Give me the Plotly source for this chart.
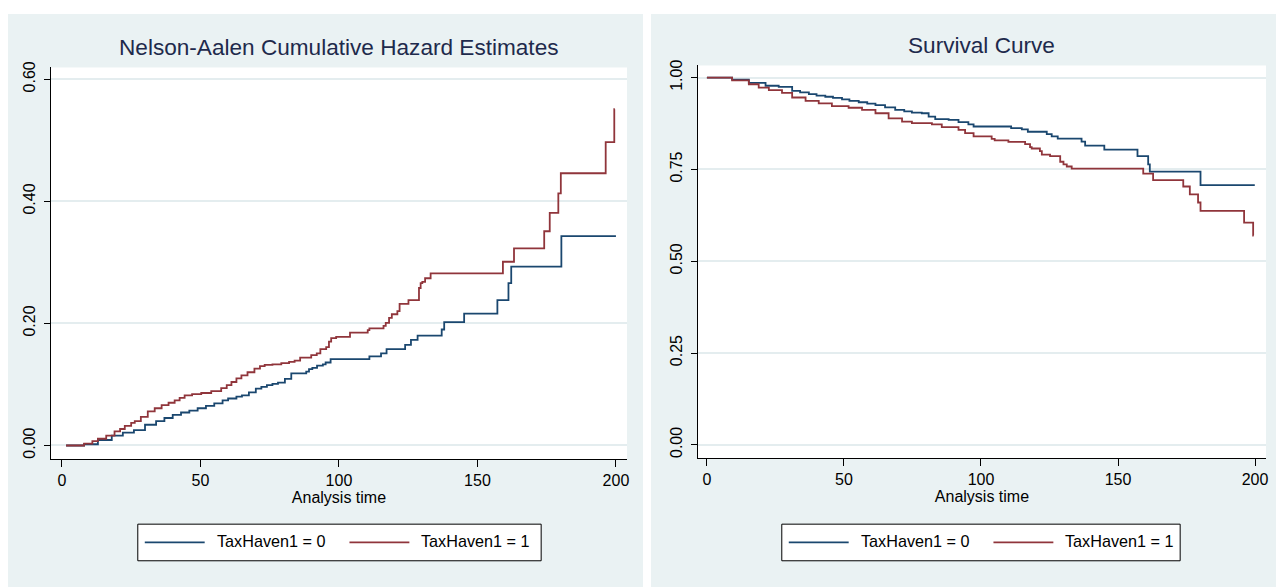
import plotly.graph_objects as go

# ---------------- data ----------------
groups = ["TaxHaven1 = 0", "TaxHaven1 = 1"]

# Nelson-Aalen cumulative hazard, TaxHaven1 = 0
na0_t = [1.5, 8, 13, 18, 22, 26, 30, 34, 37, 40, 43, 46, 49, 52, 55, 58, 60, 63, 65,
         67.5, 70, 72, 74, 76, 78, 80.5, 82.8, 88.2, 89.2, 90.4, 92.1, 94.2, 95.2, 97,
         111, 115.2, 117.2, 123.9, 126, 128.4, 137.1, 138, 145.2, 157.2, 161.2, 162.2,
         180.3, 200]
na0_h = [0, 0.002, 0.009, 0.016, 0.021, 0.025, 0.034, 0.040, 0.045, 0.050, 0.054,
         0.057, 0.061, 0.065, 0.069, 0.074, 0.077, 0.080, 0.082, 0.087, 0.093, 0.096,
         0.099, 0.101, 0.103, 0.109, 0.118, 0.121, 0.125, 0.127, 0.131, 0.133, 0.136,
         0.1416, 0.146, 0.151, 0.158, 0.165, 0.173, 0.180, 0.190, 0.202, 0.216, 0.238,
         0.266, 0.293, 0.343, 0.343]

# Nelson-Aalen cumulative hazard, TaxHaven1 = 1
na1_t = [1.5, 8, 11, 13, 16, 19, 21, 22.7, 25, 26.3, 28.5, 31, 33.5, 36, 38.5, 40.7,
         42.5, 44.3, 47, 50.3, 53.9, 57.5, 59.5, 61.2, 63, 64.8, 67, 69.5, 71.5, 73.2,
         76, 79.2, 82, 84, 86, 90, 92, 93.3, 95.4, 96.4, 97.2, 99, 104, 110.4, 111,
         116.1, 116.9, 118.1, 119.1, 121.1, 121.9, 125.1, 128.9, 129.5, 130.1, 131.1,
         133.1, 159.2, 163.2, 174.1, 176.1, 179.2, 180.1, 196.3, 199.4, 199.6]
na1_h = [0, 0.003, 0.007, 0.011, 0.016, 0.023, 0.027, 0.032, 0.037, 0.040, 0.047,
         0.056, 0.061, 0.066, 0.070, 0.074, 0.078, 0.082, 0.084, 0.086, 0.089, 0.094,
         0.099, 0.104, 0.110, 0.115, 0.120, 0.126, 0.130, 0.132, 0.133, 0.135, 0.137,
         0.139, 0.144, 0.148, 0.151, 0.158, 0.161, 0.170, 0.176, 0.178, 0.185, 0.189,
         0.192, 0.196, 0.201, 0.209, 0.215, 0.220, 0.232, 0.238, 0.258, 0.266, 0.268,
         0.274, 0.282, 0.301, 0.323, 0.351, 0.381, 0.413, 0.446, 0.497, 0.551, 0.551]

# Kaplan-Meier survival, TaxHaven1 = 0
km0_t = [0, 9.2, 15.3, 21.4, 26.2, 31.1, 34, 37.2, 40, 43.2, 46, 49.3, 52, 55.4, 58.5,
         61.5, 65, 68.7, 72, 74.8, 78.4, 80.9, 83.3, 88.2, 91.8, 95.4, 97.3, 111, 114.9,
         117.1, 124, 125.8, 128, 136.7, 138, 145, 157.1, 161, 161.6, 180.1, 199.9]
km0_s = [1.0, 0.9946, 0.9855, 0.978, 0.975, 0.964, 0.960, 0.955, 0.951, 0.948, 0.945,
         0.941, 0.937, 0.933, 0.929, 0.925, 0.919, 0.912, 0.908, 0.905, 0.903, 0.894,
         0.887, 0.885, 0.879, 0.873, 0.867, 0.8625, 0.859, 0.8526, 0.846, 0.840, 0.834,
         0.826, 0.815, 0.804, 0.786, 0.764, 0.744, 0.707, 0.707]

# Kaplan-Meier survival, TaxHaven1 = 1
km1_t = [0, 9.2, 15.3, 18.9, 22.6, 27.4, 31.1, 36, 40.8, 45.6, 51.7, 56.6, 61.5, 66.3,
         71.2, 74.8, 82.1, 85.7, 91.8, 94.2, 97.3, 103.9, 105, 110, 116.1, 117.9, 118.5,
         121.5, 122.2, 125.2, 128.9, 130.1, 131.3, 133.1, 159.2, 162.8, 173.8, 176.2,
         179.2, 180.1, 196, 199.3, 199.5]
km1_s = [1.0, 0.9927, 0.982, 0.973, 0.966, 0.9585, 0.946, 0.937, 0.930, 0.9226, 0.918,
         0.912, 0.903, 0.889, 0.880, 0.876, 0.873, 0.865, 0.858, 0.849, 0.840, 0.833,
         0.829, 0.825, 0.819, 0.811, 0.807, 0.800, 0.7906, 0.786, 0.771, 0.764, 0.758,
         0.752, 0.7385, 0.721, 0.7035, 0.682, 0.660, 0.637, 0.605, 0.570, 0.570]

x_ticks = [0, 50, 100, 150, 200]
na_ticks = [0.0, 0.2, 0.4, 0.6]
na_ticktext = ["0.00", "0.20", "0.40", "0.60"]
km_ticks = [0.0, 0.25, 0.5, 0.75, 1.0]
km_ticktext = ["0.00", "0.25", "0.50", "0.75", "1.00"]
titles = ["Nelson-Aalen Cumulative Hazard Estimates", "Survival Curve"]
x_title = "Analysis time"

# ---------------- style ----------------
# The page body has an 8px margin, so the figure is drawn 8px smaller and
# every window-pixel position is shifted by that offset.
OX, OY = 8, 8
W, H = 1284 - OX, 587 - OY
C0, C1 = "#1A476F", "#90353B"
PANEL = "#EAF2F3"
GRID = "#E4EDEF"
TITLE_C = "#1E2A4C"
FONT = "Liberation Sans, Arial, Helvetica, sans-serif"


def fx(px):
    return (px - OX) / W


def fy(py):
    return 1 - (py - OY) / H


fig = go.Figure()
for t, v, c, n in [(na0_t, na0_h, C0, groups[0]), (na1_t, na1_h, C1, groups[1])]:
    fig.add_trace(go.Scatter(x=t, y=v, mode="lines", name=n, showlegend=False,
                             line=dict(color=c, width=1.8, shape="hv"),
                             xaxis="x", yaxis="y"))
for t, v, c, n in [(km0_t, km0_s, C0, groups[0]), (km1_t, km1_s, C1, groups[1])]:
    fig.add_trace(go.Scatter(x=t, y=v, mode="lines", name=n, showlegend=False,
                             line=dict(color=c, width=1.8, shape="hv"),
                             xaxis="x2", yaxis="y2"))

xcommon = dict(tickvals=x_ticks, ticks="outside", ticklen=7, tickcolor="#000000",
               tickwidth=1, showline=True, linecolor="#000000", linewidth=1,
               showgrid=False, zeroline=False,
               tickfont=dict(family=FONT, size=16, color="#000000"),
               ticklabelstandoff=-1,
               title=dict(text=x_title, font=dict(family=FONT, size=16, color="#000000"),
                          standoff=3))
ycommon = dict(ticks="outside", ticklen=6, tickcolor="#000000", tickwidth=1,
               showline=True, linecolor="#000000", linewidth=1,
               showgrid=True, gridcolor=GRID, gridwidth=1.5, zeroline=False,
               tickangle=-90, tickfont=dict(family=FONT, size=16, color="#000000"),
               ticklabelstandoff=3)

plot_boxes = [(51, 628, 62, 458), (699, 1268, 60, 457)]  # left, right, top, bottom (px)

fig.update_layout(
    width=W, height=H, margin=dict(l=0, r=0, t=0, b=0),
    paper_bgcolor="#FFFFFF", plot_bgcolor="#FFFFFF", showlegend=False,
    xaxis=dict(domain=[fx(51), fx(628)], range=[-3.96, 204.0], anchor="y", **xcommon),
    yaxis=dict(domain=[fy(458), fy(62)], range=[-0.0227, 0.6194], anchor="x",
               tickvals=na_ticks, ticktext=na_ticktext, **ycommon),
    xaxis2=dict(domain=[fx(699), fx(1268)], range=[-3.28, 204.0], anchor="y2", **xcommon),
    yaxis2=dict(domain=[fy(457), fy(60)], range=[-0.0369, 1.0332], anchor="x2",
                tickvals=km_ticks, ticktext=km_ticktext, **ycommon),
)

shapes = [
    dict(type="rect", xref="paper", yref="paper", x0=fx(8), x1=fx(644), y0=0, y1=fy(8),
         fillcolor=PANEL, line=dict(width=0), layer="below"),
    dict(type="rect", xref="paper", yref="paper", x0=fx(652), x1=fx(1281), y0=0, y1=fy(8),
         fillcolor=PANEL, line=dict(width=0), layer="below"),
]
# white plot regions on top of the grey panels
for l, r, t, b in plot_boxes:
    shapes.append(dict(type="rect", xref="paper", yref="paper", x0=fx(l), x1=fx(r),
                       y0=fy(b), y1=fy(t), fillcolor="#FFFFFF", line=dict(width=0),
                       layer="below"))
annotations = []

# titles
for txt, cx, cy in [(titles[0], 339.5, 42), (titles[1], 983.5, 39.5)]:
    annotations.append(dict(text=txt, xref="paper", yref="paper", x=fx(cx), y=fy(cy),
                            xanchor="center", yanchor="middle", showarrow=False,
                            font=dict(family=FONT, size=22.6, color=TITLE_C)))

# legends (one per panel)
for bx0, bx1 in [(138, 542), (783, 1182)]:
    by0, by1 = 523.5, 560.5
    ly = 542
    shapes.append(dict(type="rect", xref="paper", yref="paper", x0=fx(bx0), x1=fx(bx1),
                       y0=fy(by1), y1=fy(by0), fillcolor="#FFFFFF",
                       line=dict(color="#000000", width=1), layer="above"))
    for (l0, l1, tx), col, name in [((7, 67, 77), C0, groups[0]), ((212, 272, 282), C1, groups[1])]:
        shapes.append(dict(type="line", xref="paper", yref="paper", x0=fx(bx0 + l0),
                           x1=fx(bx0 + l1), y0=fy(ly), y1=fy(ly),
                           line=dict(color=col, width=1.8), layer="above"))
        annotations.append(dict(text=name, xref="paper", yref="paper", x=fx(bx0 + tx),
                                y=fy(ly - 1), xanchor="left", yanchor="middle", showarrow=False,
                                font=dict(family=FONT, size=16.2, color="#000000")))

fig.update_layout(shapes=shapes, annotations=annotations)
fig.write_html("out.html")
